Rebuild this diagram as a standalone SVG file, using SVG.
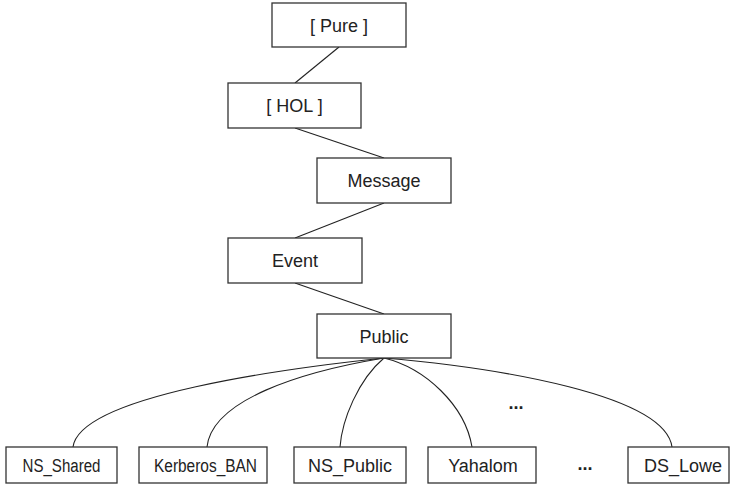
<svg xmlns="http://www.w3.org/2000/svg" width="730" height="486" viewBox="0 0 730 486">
<style>
.box{fill:#fff;stroke:#333;stroke-width:1.3}
.lbl{font-family:"Liberation Sans",Arial,sans-serif;font-size:18px;fill:#222;text-anchor:middle}
.dots{font-family:"Liberation Sans",Arial,sans-serif;font-size:18px;font-weight:bold;fill:#222;text-anchor:middle}
.edge{fill:none;stroke:#222;stroke-width:1.1}
</style>
<rect width="730" height="486" fill="#fff"/>
<g id="connectors">
<path class="edge" d="M339,47 L295,83"/>
<path class="edge" d="M295,128 L384,158"/>
<path class="edge" d="M384,203 L295,238"/>
<path class="edge" d="M295,283 L384,314"/>
<path class="edge" d="M384,358 C290,368 80,395 73,447"/>
<path class="edge" d="M384,358 C300,372 212,400 207,447"/>
<path class="edge" d="M384,358 C358,380 342,420 340,447"/>
<path class="edge" d="M384,358 C425,368 465,405 472,447"/>
<path class="edge" d="M384,358 C500,368 665,395 672,447"/>
</g>
<g id="pure"><rect class="box" x="272" y="3" width="134" height="44"/><text class="lbl" x="339" y="31.5">[ Pure ]</text></g>
<g id="hol"><rect class="box" x="228" y="83" width="133" height="45"/><text class="lbl" x="294.5" y="112">[ HOL ]</text></g>
<g id="message"><rect class="box" x="317" y="158" width="134" height="45"/><text class="lbl" x="384" y="187">Message</text></g>
<g id="event"><rect class="box" x="228" y="238" width="134" height="45"/><text class="lbl" x="295" y="267">Event</text></g>
<g id="public"><rect class="box" x="317" y="314" width="134" height="44"/><text class="lbl" x="384" y="342.5">Public</text></g>
<g id="ns_shared"><rect class="box" x="6" y="447" width="111" height="36"/><text class="lbl" x="61.5" y="471.5" textLength="78" lengthAdjust="spacingAndGlyphs">NS_Shared</text></g>
<g id="kerberos_ban"><rect class="box" x="139" y="447" width="128" height="36"/><text class="lbl" x="205.5" y="471.5" textLength="103" lengthAdjust="spacingAndGlyphs">Kerberos_BAN</text></g>
<g id="ns_public"><rect class="box" x="294" y="447" width="112" height="36"/><text class="lbl" x="350" y="471.5">NS_Public</text></g>
<g id="yahalom"><rect class="box" x="428" y="447" width="108" height="36"/><text class="lbl" x="483" y="471.5">Yahalom</text></g>
<g id="ds_lowe"><rect class="box" x="628" y="447" width="101" height="36"/><text class="lbl" x="683" y="471.5">DS_Lowe</text></g>
<text class="dots" x="516" y="409">...</text>
<text class="dots" x="585" y="470">...</text>
</svg>
